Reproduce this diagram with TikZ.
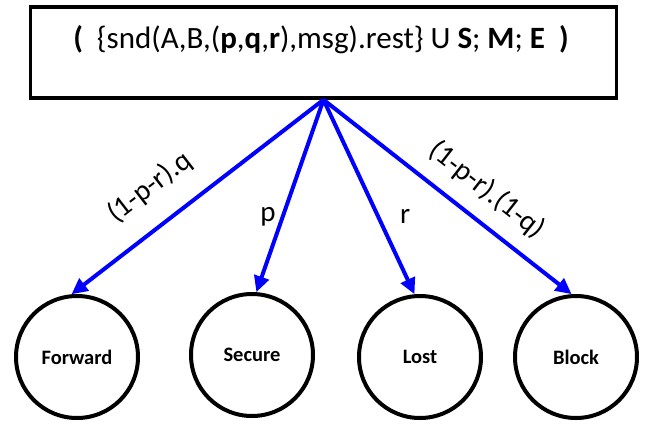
\documentclass[tikz,border=0pt]{standalone}
\usepackage{fontspec}
\setmainfont{Carlito}
\usetikzlibrary{arrows.meta}
\definecolor{arrowblue}{RGB}{0,0,255}
\begin{document}
\begin{tikzpicture}[x=1pt,y=-1pt,
  state/.style={circle, draw=black, line width=4pt, minimum size=122pt, inner sep=0pt,
    font=\fontsize{20.5}{24}\selectfont\bfseries},
  topbox/.style={draw=black, line width=3.5pt, minimum width=586pt, minimum height=91pt, inner sep=0pt},
  trans/.style={draw=arrowblue, line width=4pt, -{Triangle[length=16pt,width=15pt]}},
  prob/.style={font=\fontsize{29}{34}\selectfont, inner sep=0pt, text=black},
  titletext/.style={font=\fontsize{31}{36}\selectfont, inner sep=0pt}
]
\useasboundingbox (0,0) rectangle (657,424);
\node[topbox] (box) at (323.5,52.5) {};
\node[titletext] (title) at (321,40) {\textbf{(}\ \ \{snd(A,B,(\textbf{p},\textbf{q},\textbf{r}),msg).rest\} U \textbf{S}; \textbf{M}; \textbf{E}\ \ \textbf{)}};
\node[state] (f) at (77,357) {Forward};
\node[state] (s) at (252,355) {Secure};
\node[state] (l) at (420,357) {Lost};
\node[state] (b) at (576,357) {Block};
\draw[trans] (box.south) -- node[prob, sloped, pos=0.6, above=22pt] (lf) {(1-p-r).q} (f.95);
\draw[trans] (box.south) -- node[prob, pos=0.61, left=5pt] (ls) {p} (s.86);
\draw[trans] (box.south) -- node[prob, pos=0.60, right=20pt] (ll) {r} (l.95);
\draw[trans] (box.south) -- node[prob, sloped, pos=0.585, above=15pt] (lb) {(1-p-r).(1-q)} (b.94);
\end{tikzpicture}
\end{document}
